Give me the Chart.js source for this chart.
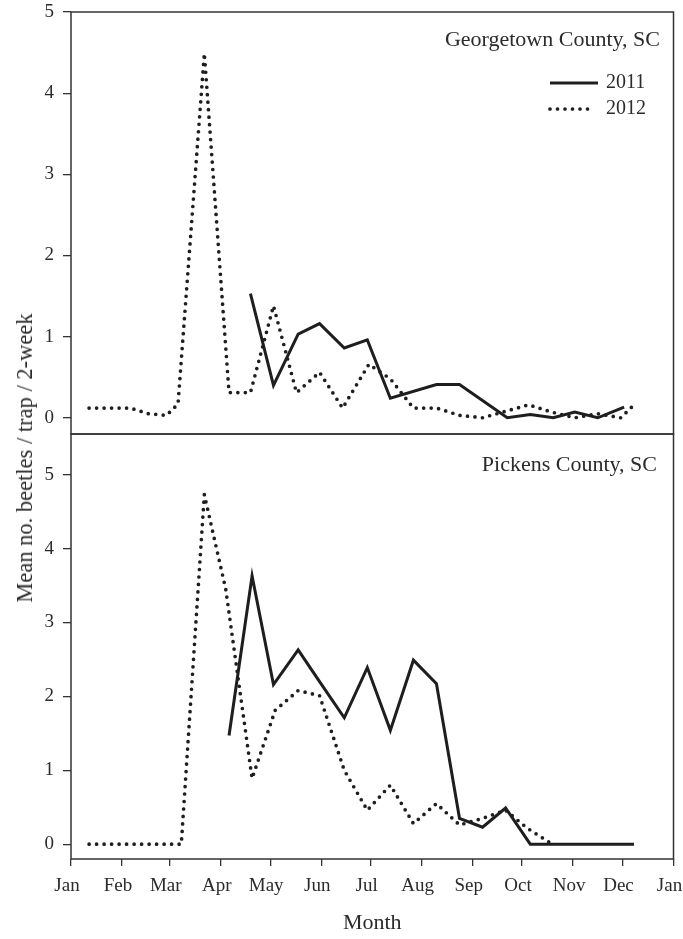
<!DOCTYPE html>
<html>
<head>
<meta charset="utf-8">
<title>Mean no. beetles per trap</title>
<script src="https://cdn.jsdelivr.net/npm/chart.js@4.4.1/dist/chart.umd.min.js"></script>
<style>
  html, body { margin: 0; padding: 0; background: #fff; overflow: hidden; }
  #wrap { position: relative; width: 683px; height: 939px; }
  #topPanel { position: absolute; left: 0; top: 0; }
  #bottomPanel { position: absolute; left: 0; top: 420px; }
  #yTitle {
    position: absolute; left: 25px; top: 458px;
    transform: translate(-50%, -50%) rotate(-90deg);
    font: 22.5px "Liberation Serif", serif; color: #2b2b2b; white-space: nowrap;
  }
</style>
</head>
<body>
<div id="wrap">
  <canvas id="topPanel" width="683" height="440"></canvas>
  <canvas id="bottomPanel" width="683" height="519"></canvas>
  <div id="yTitle">Mean no. beetles / trap / 2-week</div>
</div>
<script>
// x axis = day of year, ticks at the start of each month
const monthDays = [0, 31, 60, 91, 121, 152, 182, 213, 244, 274, 305, 335, 366];
const monthLabels = ["Jan", "Feb", "Mar", "Apr", "May", "Jun", "Jul", "Aug", "Sep", "Oct", "Nov", "Dec", "Jan"];
const yTicks = [0, 1, 2, 3, 4, 5];

// Georgetown County, SC
const geo2011Days = [109, 123, 138, 151, 166, 180, 194, 222, 236, 265, 279, 293, 306, 320, 336];
const geo2011Vals = [1.53, 0.40, 1.03, 1.16, 0.86, 0.96, 0.24, 0.41, 0.41, 0.00, 0.04, 0.00, 0.07, 0.00, 0.13];
const geo2012Days = [11, 25, 36, 47, 58, 65, 81, 96, 109, 123, 137, 151, 165, 181, 194, 208, 222, 236, 250, 264, 278, 292, 306, 320, 334, 342];
const geo2012Vals = [0.12, 0.12, 0.12, 0.05, 0.03, 0.17, 4.49, 0.31, 0.31, 1.38, 0.31, 0.56, 0.12, 0.66, 0.48, 0.12, 0.12, 0.03, 0.00, 0.08, 0.16, 0.07, 0.00, 0.05, 0.00, 0.16];

// Pickens County, SC
const pic2011Days = [96, 110, 123, 138, 151, 166, 180, 194, 208, 222, 236, 250, 264, 279, 292, 306, 320, 334, 342];
const pic2011Vals = [1.47, 3.63, 2.16, 2.63, 2.20, 1.71, 2.39, 1.54, 2.49, 2.17, 0.35, 0.23, 0.49, 0.00, 0.00, 0.00, 0.00, 0.00, 0.00];
const pic2012Days = [11, 25, 39, 53, 67, 81, 94, 110, 124, 138, 151, 166, 180, 194, 208, 222, 236, 250, 264, 277, 291];
const pic2012Vals = [0, 0, 0, 0, 0, 4.73, 3.45, 0.89, 1.81, 2.08, 2.01, 1.00, 0.46, 0.80, 0.28, 0.55, 0.26, 0.35, 0.46, 0.22, 0.02];

const INK = "#1e1e1e";
const TEXT = "#2b2b2b";
const SERIF = "'Liberation Serif', 'Times New Roman', serif";

function points(days, vals) {
  return days.map((d, i) => ({ x: d, y: vals[i] }));
}

function solid(days, vals) {
  return {
    label: "2011", data: points(days, vals),
    borderColor: INK, borderWidth: 3, pointRadius: 0, tension: 0, fill: false
  };
}

function dotted(days, vals) {
  return {
    label: "2012", data: points(days, vals),
    borderColor: INK, borderWidth: 3.7, borderDash: [0, 7.5], borderCapStyle: "round",
    pointRadius: 0, tension: 0, fill: false
  };
}

// box round the plot, county name and (top only) the legend
const panelFrame = {
  id: "panelFrame",
  afterDraw(chart, args, opts) {
    const { ctx, chartArea: a } = chart;
    ctx.save();
    ctx.strokeStyle = "#333";
    ctx.lineWidth = 1.5;
    ctx.setLineDash([]);
    ctx.strokeRect(a.left, a.top, a.right - a.left, a.bottom - a.top);

    ctx.fillStyle = TEXT;
    ctx.font = "22px " + SERIF;
    ctx.textAlign = "right";
    ctx.textBaseline = "alphabetic";
    ctx.fillText(opts.title, opts.titleX, opts.titleY);

    if (opts.legend) {
      chart.data.datasets.forEach((ds, i) => {
        const y = opts.legendY[i];
        ctx.strokeStyle = ds.borderColor;
        ctx.lineWidth = ds.borderWidth;
        ctx.lineCap = ds.borderCapStyle || "butt";
        ctx.setLineDash(ds.borderDash || []);
        ctx.beginPath();
        ctx.moveTo(550, y);
        ctx.lineTo(i === 0 ? 598 : 593, y);
        ctx.stroke();
        ctx.setLineDash([]);
        ctx.font = "20px " + SERIF;
        ctx.textAlign = "left";
        ctx.textBaseline = "middle";
        ctx.fillText(ds.label, 606, y);
      });
    }
    ctx.restore();
  }
};

function yScale(max) {
  return {
    min: -0.2, max: max,
    afterBuildTicks: s => { s.ticks = yTicks.map(v => ({ value: v })); },
    afterFit: s => { s.width = 71; s.paddingTop = 0; s.paddingBottom = 0; },
    grid: { drawOnChartArea: false, drawTicks: true, tickLength: 8, color: "#333", lineWidth: 1.3 },
    border: { display: false },
    ticks: { color: TEXT, font: { family: SERIF, size: 19 }, padding: 9 }
  };
}

Chart.defaults.font.family = SERIF;

// Georgetown County panel
new Chart(document.getElementById("topPanel"), {
  type: "line",
  data: { datasets: [solid(geo2011Days, geo2011Vals), dotted(geo2012Days, geo2012Vals)] },
  plugins: [panelFrame],
  options: {
    responsive: false, animation: false, devicePixelRatio: 1,
    layout: { padding: { top: 12, right: 9.5, bottom: 6, left: 0 } },
    scales: {
      x: { type: "linear", min: 0, max: 366, display: false },
      y: yScale(5)
    },
    plugins: {
      legend: { display: false },
      tooltip: { enabled: false },
      panelFrame: { title: "Georgetown County, SC", titleX: 660, titleY: 46, legend: true, legendY: [83, 109] }
    }
  }
});

// Pickens County panel, carries the month axis
new Chart(document.getElementById("bottomPanel"), {
  type: "line",
  data: { datasets: [solid(pic2011Days, pic2011Vals), dotted(pic2012Days, pic2012Vals)] },
  plugins: [panelFrame],
  options: {
    responsive: false, animation: false, devicePixelRatio: 1,
    layout: { padding: { top: 14, right: 9.5, bottom: 0, left: 0 } },
    scales: {
      x: {
        type: "linear", min: 0, max: 366,
        afterBuildTicks: s => { s.ticks = monthDays.map(v => ({ value: v })); },
        afterFit: s => { s.height = 80; s.paddingLeft = 0; s.paddingRight = 0; },
        grid: { drawOnChartArea: false, drawTicks: true, tickLength: 7, color: "#333", lineWidth: 1.3 },
        border: { display: false },
        ticks: {
          color: TEXT, font: { family: SERIF, size: 19 }, padding: 9, labelOffset: -4,
          autoSkip: false, maxRotation: 0, minRotation: 0,
          callback: (v, i) => monthLabels[i]
        },
        title: { display: true, text: "Month", color: TEXT, font: { family: SERIF, size: 22 }, padding: { top: 0, bottom: 3 } }
      },
      y: yScale(5.55)
    },
    plugins: {
      legend: { display: false },
      tooltip: { enabled: false },
      panelFrame: { title: "Pickens County, SC", titleX: 657, titleY: 51, legend: false }
    }
  }
});
</script>
</body>
</html>
